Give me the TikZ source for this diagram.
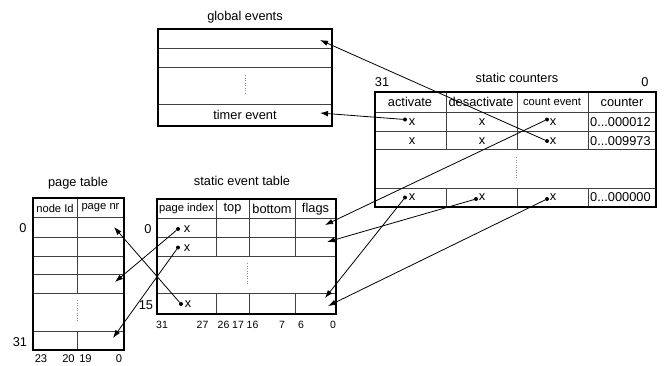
\documentclass[tikz,border=0pt]{standalone}
\usepackage{fontspec}
\setmainfont{Liberation Sans}
\usetikzlibrary{arrows.meta}
\begin{document}
\begin{tikzpicture}[x=1pt,y=-1pt,
  frame/.style={line width=1.6pt},
  rule/.style={line width=0.8pt, black!75},
  gap/.style={dotted, line width=0.5pt, black!45},
  lbl/.style={font=\fontsize{12.8}{14}\selectfont, inner sep=0pt},
  hdr/.style={font=\fontsize{11.2}{13}\selectfont, inner sep=0pt},
  bits/.style={font=\fontsize{11.2}{13}\selectfont, inner sep=0pt},
  sbits/.style={font=\fontsize{10.5}{12}\selectfont, inner sep=0pt},
  pin/.style={circle, fill=black, inner sep=0pt, minimum size=4pt},
  link/.style={-{Latex[length=8pt,width=5.5pt]}, line width=0.8pt}]
\useasboundingbox (0,0) rectangle (664,365);

% ---------------- global events ----------------
\node[lbl] (geTitle) at (245,17) {global events};
\draw[rule] (158,48) -- (332,48) (158,67) -- (332,67) (158,104) -- (332,104);
\draw[gap] (245,75) -- (245,95);
\draw[frame] (158,29) rectangle (332,126);
\node[lbl] (geTimer) at (245,115) {timer event};
\coordinate (geFirst) at (320,40);
\coordinate (geTimerIn) at (320,113);

% ---------------- static counters ----------------
\node[lbl] (scTitle) at (517,78) {static counters};
\node[lbl] (scHi) at (382,82) {31};
\node[lbl] (scLo) at (645,82) {0};
\draw[rule] (375,112) -- (656,112) (375,131) -- (656,131)
            (375,149) -- (656,149) (375,188) -- (656,188);
\foreach \cx in {446,517,588}
  \draw[rule] (\cx,92) -- (\cx,149) (\cx,188) -- (\cx,207);
\draw[gap] (516,157) -- (516,178);
\draw[frame] (375,92) rectangle (656,207);
\node[lbl] (scA) at (410,102) {activate};
\node[lbl] (scD) at (481,102) {desactivate};
\node[hdr] (scC) at (552,102) {count event};
\node[lbl] (scN) at (622,102) {counter};
% first row
\node[pin] (a1) at (405,119.5) {};
\node[lbl] (a1x) at (412,122) {x};
\node[lbl] (d1x) at (482,122) {x};
\node[pin] (c1) at (547,119.5) {};
\node[lbl] (c1x) at (553,122) {x};
\node[lbl, anchor=west] (n1) at (590,122) {0...000012};
% second row
\node[lbl] (a2x) at (412,141) {x};
\node[lbl] (d2x) at (482,141) {x};
\node[pin] (c2) at (547,141) {};
\node[lbl] (c2x) at (553,141) {x};
\node[lbl, anchor=west] (n2) at (590,141) {0...009973};
% last row
\node[pin] (a3) at (405,197.5) {};
\node[lbl] (a3x) at (412,197.5) {x};
\node[pin] (d3) at (476,199) {};
\node[lbl] (d3x) at (482,197.5) {x};
\node[pin] (c3) at (547,199) {};
\node[lbl] (c3x) at (553,197.5) {x};
\node[lbl, anchor=west] (n3) at (590,197.5) {0...000000};

% ---------------- page table ----------------
\node[lbl] (ptTitle) at (78,183) {page table};
\draw[rule] (33,217) -- (124,217) (33,237) -- (124,237) (33,256) -- (124,256)
            (33,274) -- (124,274) (33,293) -- (124,293) (33,331) -- (124,331);
\draw[rule] (77,198) -- (77,293) (77,331) -- (77,350);
\draw[gap] (77,300) -- (77,322);
\draw[frame] (33,198) rectangle (124,350);
\node[hdr] (ptNode) at (55,208) {node Id};
\node[hdr] (ptPage) at (100.5,208) {page nr};
\node[lbl] (ptFirst) at (23,228) {0};
\node[lbl] (ptLast) at (20,342) {31};
\node[bits] (pb23) at (41,358.5) {23};
\node[bits] (pb20) at (68.5,358.5) {20};
\node[bits] (pb19) at (85.5,358.5) {19};
\node[bits] (pb0) at (119,358.5) {0};
\coordinate (pt0) at (114,227);
\coordinate (pt3) at (115,282);
\coordinate (pt31) at (113,338);

% ---------------- static event table ----------------
\node[lbl] (etTitle) at (242,181) {static event table};
\draw[rule] (157,218) -- (336,218) (157,237) -- (336,237)
            (157,256) -- (336,256) (157,293) -- (336,293);
\foreach \cx in {216,249,295}
  \draw[rule] (\cx,199) -- (\cx,256) (\cx,293) -- (\cx,314);
\draw[gap] (247,263) -- (247,285);
\draw[frame] (157,199) rectangle (336,314);
\node[hdr] (etIdx) at (186.5,209) {page index};
\node[lbl] (etTop) at (232.5,209) {top};
\node[lbl] (etBot) at (272,209) {bottom};
\node[lbl] (etFlags) at (315.5,209) {flags};
\node[lbl] (etFirst) at (148,229) {0};
\node[lbl] (etLast) at (146,305) {15};
\node[pin] (e0) at (178,229) {};
\node[lbl] (e0x) at (187,229.5) {x};
\node[pin] (e1) at (178,247.5) {};
\node[lbl] (e1x) at (187,248) {x};
\node[pin] (e15) at (181,304) {};
\node[lbl] (e15x) at (188,304.5) {x};
\foreach \lab/\px in {31/162,27/202.5,26/223.5,17/238,16/252.5,7/282,6/301,0/333}
  \node[sbits] at (\px,325) {\lab};
\coordinate (f0) at (325,225);
\coordinate (f1) at (327,242);
\coordinate (f15a) at (325,298);
\coordinate (f15b) at (328,306);

% ---------------- links ----------------
\draw[link] (a1) -- (geTimerIn);
\draw[link] (c2) -- (geFirst);
\draw[link] (c1) -- (f0);
\draw[link] (d3) -- (f1);
\draw[link] (a3) -- (f15a);
\draw[link] (c3) -- (f15b);
\draw[link] (e15) -- (pt0);
\draw[link] (e0) -- (pt3);
\draw[link] (e1) -- (pt31);
\end{tikzpicture}
\end{document}
